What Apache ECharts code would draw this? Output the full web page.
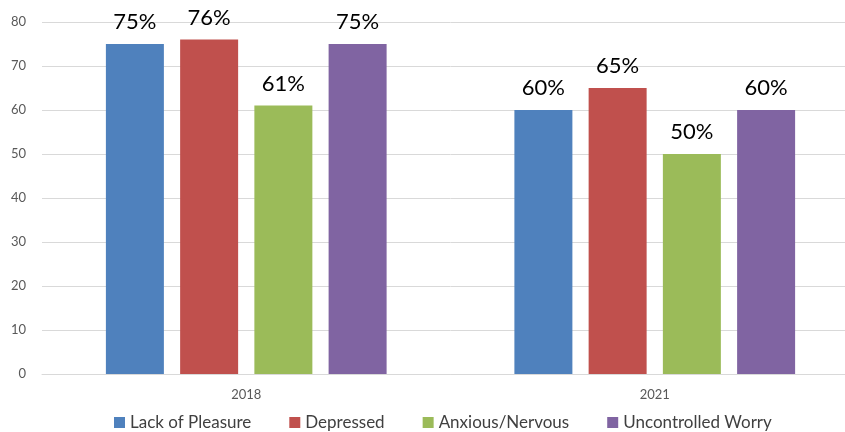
<!DOCTYPE html>
<html>
<head>
<meta charset="utf-8">
<script src="https://cdn.jsdelivr.net/npm/echarts@6/dist/echarts.min.js"></script>
<style>html,body{margin:0;padding:0;background:#fff;overflow:hidden;width:845px;height:432px}#c{width:859px;height:432px}</style>
</head>
<body>
<div id="c"></div>
<script>
const categories = ['2018', '2021'];
const lackOfPleasure = [75, 60];
const depressed = [76, 65];
const anxiousNervous = [61, 50];
const uncontrolledWorry = [75, 60];
const seriesNames = ['Lack of Pleasure', 'Depressed', 'Anxious/Nervous', 'Uncontrolled Worry'];
const colors = ['#4F81BD', '#C0504D', '#9BBB59', '#8064A2'];
const yTicks = [0, 10, 20, 30, 40, 50, 60, 70, 80];

const chart = echarts.init(document.getElementById('c'));
const font = 'Lato, "Noto Sans", sans-serif';
const mk = (name, data, color) => ({
  name, type: 'bar', data, barWidth: 58, barGap: '28%',
  itemStyle: { color },
  label: { show: true, position: 'top', formatter: '{c}%', color: '#000', fontSize: 22, fontFamily: font, distance: 11 }
});
chart.setOption({
  animation: false,
  textStyle: { fontFamily: font },
  grid: { left: 42, right: 0, top: 22, bottom: 58 },
  xAxis: {
    type: 'category', data: categories,
    axisLine: { lineStyle: { color: '#d9d9d9' } },
    axisTick: { show: false },
    axisLabel: { color: '#595959', fontSize: 13, margin: 14, fontFamily: font }
  },
  yAxis: {
    type: 'value', min: yTicks[0], max: yTicks[yTicks.length - 1], interval: 10,
    axisLine: { show: false }, axisTick: { show: false },
    splitLine: { lineStyle: { color: '#d9d9d9' } },
    axisLabel: { color: '#595959', fontSize: 13, margin: 16, fontFamily: font }
  },
  legend: {
    top: 414, left: 114, padding: [0, 0, 0, 0], itemWidth: 11, itemHeight: 11, itemGap: 38, icon: 'rect',
    textStyle: { color: '#404040', fontSize: 17, fontFamily: font },
    data: seriesNames
  },
  series: [
    mk(seriesNames[0], lackOfPleasure, colors[0]),
    mk(seriesNames[1], depressed, colors[1]),
    mk(seriesNames[2], anxiousNervous, colors[2]),
    mk(seriesNames[3], uncontrolledWorry, colors[3])
  ]
});
</script>
</body>
</html>
